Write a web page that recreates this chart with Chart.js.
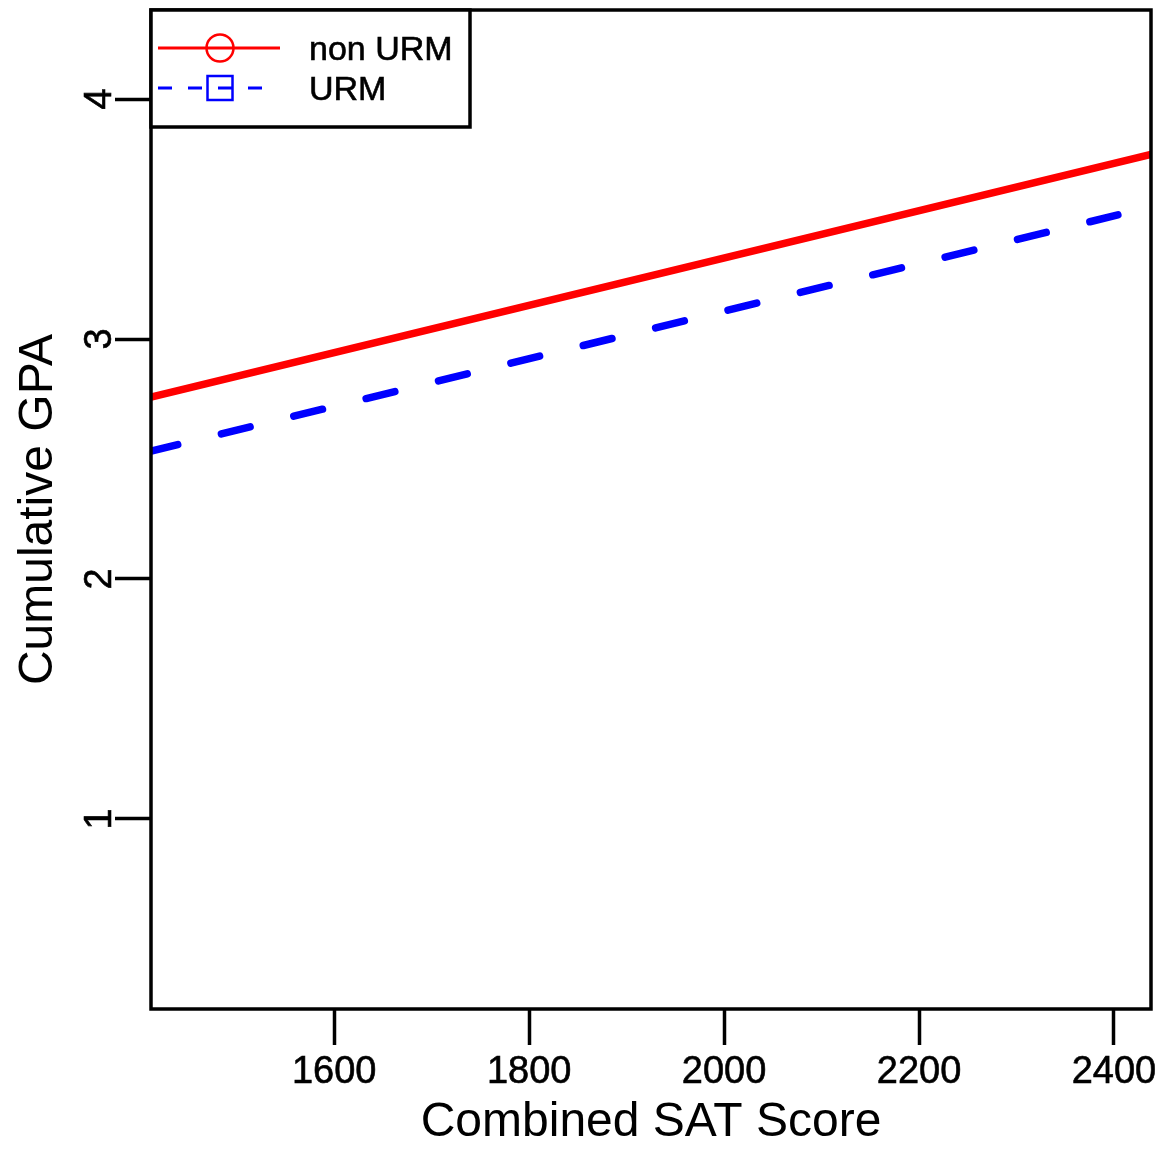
<!DOCTYPE html>
<html>
<head>
<meta charset="utf-8">
<script src="https://cdn.jsdelivr.net/npm/chart.js@4.4.1/dist/chart.umd.min.js"></script>
<style>
  html, body { margin: 0; padding: 0; background: #fff; }
  #wrap { width: 1166px; height: 1152px; }
</style>
</head>
<body>
<div id="wrap"><canvas id="gpaChart"></canvas></div>
<script>
// fitted GPA lines
const seriesNames = ['non URM', 'URM'];
const satNonURM = [1412, 2438];
const gpaNonURM = [2.758, 3.769];
const satURM = [1410, 2404];
const gpaURM = [2.531, 3.517];

// axes
const xTicks = [1600, 1800, 2000, 2200, 2400];
const yTicks = [1, 2, 3, 4];
const xRange = [1412, 2438];
const yRange = [0.208, 4.371];

const RED = '#FF0000';
const BLUE = '#0000FF';
const FONT = "'Liberation Sans', Arial, sans-serif";

// box around the plot region
const framePlugin = {
  id: 'frame',
  afterDatasetsDraw(chart) {
    const { ctx, chartArea: a } = chart;
    ctx.save();
    ctx.strokeStyle = '#000';
    ctx.lineWidth = 3.5;
    ctx.strokeRect(a.left, a.top, a.right - a.left, a.bottom - a.top);
    ctx.restore();
  }
};

// R style legend: line with marker on it
const legendPlugin = {
  id: 'rLegend',
  afterDraw(chart) {
    const { ctx, chartArea: a } = chart;
    const x0 = a.left, y0 = a.top;
    ctx.save();
    ctx.fillStyle = '#fff';
    ctx.fillRect(x0, y0, 319, 117);
    ctx.strokeStyle = '#000';
    ctx.lineWidth = 3.5;
    ctx.strokeRect(x0, y0, 319, 117);

    const rows = [y0 + 38, y0 + 78];
    chart.data.datasets.forEach((ds, i) => {
      const y = rows[i];
      ctx.strokeStyle = ds.borderColor;
      ctx.lineWidth = 3;
      ctx.lineCap = 'butt';
      ctx.setLineDash(i === 0 ? [] : [14, 16]);
      ctx.beginPath();
      ctx.moveTo(x0 + 7, y);
      ctx.lineTo(x0 + (i === 0 ? 129 : 127), y);
      ctx.stroke();
      ctx.setLineDash([]);
      ctx.lineWidth = 2.5;
      ctx.beginPath();
      if (i === 0) {
        ctx.arc(x0 + 69, y, 13.5, 0, Math.PI * 2);
      } else {
        ctx.rect(x0 + 56.5, y - 12, 25, 24);
      }
      ctx.stroke();

      ctx.fillStyle = '#000';
      ctx.strokeStyle = '#000';
      ctx.lineWidth = 0.6;
      ctx.font = '34px ' + FONT;
      ctx.textAlign = 'left';
      ctx.textBaseline = 'alphabetic';
      ctx.fillText(ds.label, x0 + 158, y + 12);
      ctx.strokeText(ds.label, x0 + 158, y + 12);
    });
    ctx.restore();
  }
};

const noPad = s => {
  s.paddingTop = 0;
  s.paddingBottom = 0;
  s.paddingLeft = 0;
  s.paddingRight = 0;
};

new Chart(document.getElementById('gpaChart'), {
  type: 'line',
  data: {
    datasets: [
      {
        label: seriesNames[0],
        data: satNonURM.map((s, i) => ({ x: s, y: gpaNonURM[i] })),
        borderColor: RED,
        borderWidth: 7.5,
        pointRadius: 0,
        tension: 0,
        clip: 0
      },
      {
        label: seriesNames[1],
        data: satURM.map((s, i) => ({ x: s, y: gpaURM[i] })),
        borderColor: BLUE,
        borderWidth: 7.5,
        borderDash: [29.5, 45],
        borderCapStyle: 'round',
        pointRadius: 0,
        tension: 0,
        clip: 0
      }
    ]
  },
  options: {
    responsive: true,
    maintainAspectRatio: false,
    animation: false,
    layout: { padding: { top: 10, right: 15, bottom: 0, left: 0 } },
    plugins: {
      legend: { display: false },
      tooltip: { enabled: false }
    },
    scales: {
      x: {
        type: 'linear',
        min: xRange[0],
        max: xRange[1],
        afterBuildTicks: s => { s.ticks = xTicks.map(v => ({ value: v })); },
        afterFit: s => { s.height = 143; noPad(s); },
        grid: { drawOnChartArea: false, tickLength: 36, tickWidth: 3.5, tickColor: '#000' },
        border: { display: false },
        ticks: {
          autoSkip: false,
          maxRotation: 0,
          padding: 5,
          color: '#000',
          textStrokeColor: '#000',
          textStrokeWidth: 0.6,
          font: { family: FONT, size: 38 },
          callback: v => String(v)
        },
        title: {
          display: true,
          text: 'Combined SAT Score',
          color: '#000',
          font: { family: FONT, size: 48 },
          padding: { top: 0, bottom: 0 }
        }
      },
      y: {
        type: 'linear',
        min: yRange[0],
        max: yRange[1],
        afterBuildTicks: s => { s.ticks = yTicks.map(v => ({ value: v })); },
        afterFit: s => { s.width = 151; noPad(s); },
        grid: { drawOnChartArea: false, tickLength: 36, tickWidth: 3.5, tickColor: '#000' },
        border: { display: false },
        ticks: {
          autoSkip: false,
          minRotation: 90,
          maxRotation: 90,
          crossAlign: 'center',
          padding: 4,
          color: '#000',
          textStrokeColor: '#000',
          textStrokeWidth: 0.6,
          font: { family: FONT, size: 38 },
          callback: v => String(v)
        },
        title: {
          display: true,
          text: 'Cumulative GPA',
          color: '#000',
          font: { family: FONT, size: 48 },
          padding: { top: 10, bottom: 0 }
        }
      }
    }
  },
  plugins: [framePlugin, legendPlugin]
});
</script>
</body>
</html>
